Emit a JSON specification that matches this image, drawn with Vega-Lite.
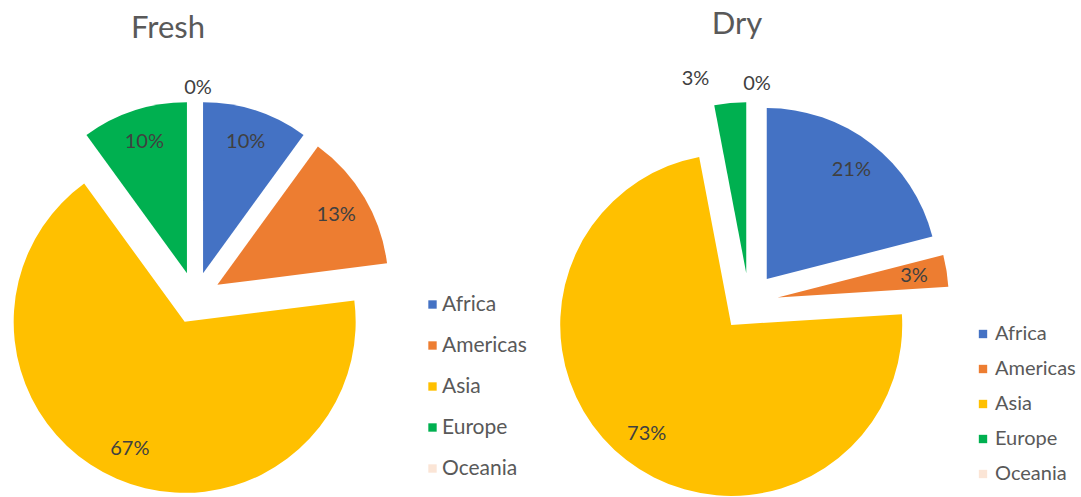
{
  "$schema": "https://vega.github.io/schema/vega-lite/v6.json",
  "padding": {"left": 0, "top": 9, "right": 0, "bottom": 0},
  "spacing": 30,
  "background": "white",
  "config": {
    "view": {"stroke": null},
    "font": "Lato",
    "title": {"font": "Lato", "fontSize": 31, "fontWeight": "normal", "color": "#595959", "frame": "group"},
    "legend": {"labelFont": "Lato", "labelFontSize": 21, "labelColor": "#595959", "symbolType": "square", "symbolSize": 70, "symbolStrokeWidth": 0, "labelOffset": -1, "title": null}
  },
  "datasets": {
    "fresh": [
      {"region": "Africa", "share": 0.10},
      {"region": "Americas", "share": 0.13},
      {"region": "Asia", "share": 0.67},
      {"region": "Europe", "share": 0.10},
      {"region": "Oceania", "share": 0}
    ],
    "dry": [
      {"region": "Africa", "share": 0.21},
      {"region": "Americas", "share": 0.03},
      {"region": "Asia", "share": 0.73},
      {"region": "Europe", "share": 0.03},
      {"region": "Oceania", "share": 0}
    ]
  },
  "hconcat": [
    {
      "width": 390,
      "height": 380,
      "title": {"text": "Fresh", "dx": -27, "offset": 33},
      "data": {"name": "fresh"},
      "encoding": {
        "theta": {"field": "share", "type": "quantitative", "stack": true},
        "order": {"field": "region", "type": "nominal", "sort": "ascending"}
      },
      "layer": [
        {
          "mark": {
            "type": "arc",
            "outerRadius": 171,
            "xOffset": {"expr": "26*sin(PI*(datum.share_start+datum.share_end))"},
            "yOffset": {"expr": "-26*cos(PI*(datum.share_start+datum.share_end))"}
          },
          "encoding": {
            "color": {
              "field": "region",
              "type": "nominal",
              "scale": {"domain": ["Africa", "Americas", "Asia", "Europe", "Oceania"], "range": ["#4472C4", "#ED7D31", "#FFC000", "#00B050", "#FBE5D6"]},
              "legend": {"orient": "none", "legendX": 422, "legendY": 186, "rowPadding": 19}
            }
          }
        },
        {
          "mark": {
            "type": "text",
            "radius": 138,
            "fontSize": 20,
            "color": "#404040",
            "xOffset": {"expr": "26*sin(PI*(datum.share_start+datum.share_end))"},
            "yOffset": {"expr": "-26*cos(PI*(datum.share_start+datum.share_end))"}
          },
          "encoding": {
            "detail": {"field": "region", "type": "nominal"},
            "text": {"condition": {"test": "datum.region == 'Oceania'", "value": ""}, "field": "share", "type": "quantitative", "format": ".0%"}
          }
        },
        {
          "mark": {
            "type": "text",
            "radius": 184,
            "dx": 3,
            "fontSize": 20,
            "color": "#404040",
            "xOffset": {"expr": "26*sin(PI*(datum.share_start+datum.share_end))"},
            "yOffset": {"expr": "-26*cos(PI*(datum.share_start+datum.share_end))"}
          },
          "encoding": {
            "detail": {"field": "region", "type": "nominal"},
            "text": {"condition": {"test": "datum.region != 'Oceania'", "value": ""}, "field": "share", "type": "quantitative", "format": ".0%"}
          }
        }
      ]
    },
    {
      "width": 384,
      "height": 388,
      "title": {"text": "Dry", "dx": -12, "offset": 27},
      "data": {"name": "dry"},
      "encoding": {
        "theta": {"field": "share", "type": "quantitative", "stack": true},
        "order": {"field": "region", "type": "nominal", "sort": "ascending"}
      },
      "layer": [
        {
          "mark": {
            "type": "arc",
            "outerRadius": 171,
            "xOffset": {"expr": "29*sin(PI*(datum.share_start+datum.share_end))"},
            "yOffset": {"expr": "-29*cos(PI*(datum.share_start+datum.share_end))"}
          },
          "encoding": {
            "color": {
              "field": "region",
              "type": "nominal",
              "scale": {"domain": ["Africa", "Americas", "Asia", "Europe", "Oceania"], "range": ["#4472C4", "#ED7D31", "#FFC000", "#00B050", "#FBE5D6"]},
              "legend": {"orient": "none", "legendX": 416, "legendY": 216, "rowPadding": 15, "labelFontSize": 20, "labelOffset": 2}
            }
          }
        },
        {
          "mark": {
            "type": "text",
            "radius": 138,
            "fontSize": 20,
            "color": "#404040",
            "xOffset": {"expr": "29*sin(PI*(datum.share_start+datum.share_end))"},
            "yOffset": {"expr": "-29*cos(PI*(datum.share_start+datum.share_end))"}
          },
          "encoding": {
            "detail": {"field": "region", "type": "nominal"},
            "text": {"condition": {"test": "datum.region == 'Oceania' || datum.region == 'Europe'", "value": ""}, "field": "share", "type": "quantitative", "format": ".0%"}
          }
        },
        {
          "mark": {
            "type": "text",
            "radius": 189,
            "dx": 8,
            "fontSize": 20,
            "color": "#404040",
            "xOffset": {"expr": "29*sin(PI*(datum.share_start+datum.share_end))"},
            "yOffset": {"expr": "-29*cos(PI*(datum.share_start+datum.share_end))"}
          },
          "encoding": {
            "detail": {"field": "region", "type": "nominal"},
            "text": {"condition": {"test": "datum.region != 'Oceania'", "value": ""}, "field": "share", "type": "quantitative", "format": ".0%"}
          }
        },
        {
          "mark": {
            "type": "text",
            "radius": 189,
            "dx": -33,
            "dy": -6,
            "fontSize": 20,
            "color": "#404040",
            "xOffset": {"expr": "29*sin(PI*(datum.share_start+datum.share_end))"},
            "yOffset": {"expr": "-29*cos(PI*(datum.share_start+datum.share_end))"}
          },
          "encoding": {
            "detail": {"field": "region", "type": "nominal"},
            "text": {"condition": {"test": "datum.region != 'Europe'", "value": ""}, "field": "share", "type": "quantitative", "format": ".0%"}
          }
        }
      ]
    }
  ],
  "resolve": {"scale": {"color": "independent"}, "legend": {"color": "independent"}}
}
